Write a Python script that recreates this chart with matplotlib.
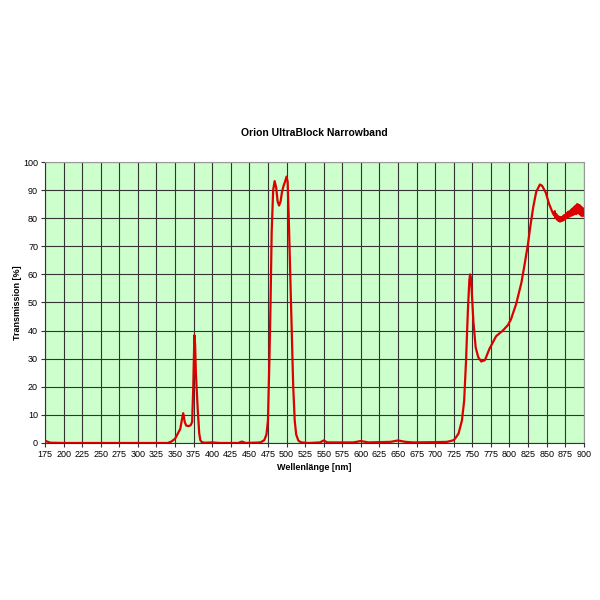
import matplotlib
matplotlib.use("Agg")
import matplotlib.pyplot as plt
import numpy as np

title = "Orion UltraBlock Narrowband"
x_label = "Wellenlänge [nm]"
y_label = "Transmission [%]"
x_ticks = list(range(175, 901, 25))
y_ticks = list(range(0, 101, 10))

wavelength = [175, 178, 182, 200, 250, 300, 340, 345, 350, 354, 357, 359, 361, 363, 365, 368,
              371, 373, 374.5, 376, 377, 378, 379, 380.5, 382.5, 384, 386, 390, 400, 410,
              435, 440, 445, 465, 470, 473, 475, 477, 478.5, 480, 482, 484, 486, 488, 490,
              492, 494, 496, 498, 500, 501.5, 503, 505, 507, 509, 511, 513, 516, 520, 530,
              545, 550, 555, 590, 600, 610, 640, 650, 660, 670, 700, 716, 725, 728, 731.5,
              736, 739, 741.5, 744, 746, 747, 748, 749, 751.5, 754.5, 758, 762, 767, 773,
              782, 791, 798, 802, 809, 816, 820, 825, 828, 832, 836, 841, 844, 849, 853,
              858, 860, 861, 862, 863, 864, 865, 866, 867, 868, 869, 870, 871, 872, 873,
              874, 875, 876, 877, 878, 879, 880, 881, 882, 883, 884, 885, 886, 887, 888,
              889, 890, 891, 892, 893, 894, 895, 896, 897, 898, 899, 900]
transmission = [0.8, 0.5, 0.1, 0, 0, 0, 0, 0.5, 1.5, 3.5, 5, 8, 10.6, 7.5, 6.2, 6,
                6.3, 7.5, 20, 38.4, 35, 25, 20, 12, 3.5, 1, 0.3, 0.1, 0.2, 0,
                0, 0.5, 0, 0.2, 1, 3, 8, 30, 50, 75, 90, 93.2, 91, 86, 84.5,
                86, 89.5, 91.5, 93, 94.8, 93, 80, 60, 40, 20, 8, 3, 0.8, 0.2, 0,
                0.2, 0.9, 0.2, 0.2, 0.7, 0.2, 0.4, 0.9, 0.4, 0.2, 0.3, 0.4, 1, 2, 3.4,
                8, 15, 29, 47, 58, 60, 59, 55, 43, 34, 30.5, 29, 29.5, 33.5,
                38, 40, 42, 44, 49.5, 57, 63, 71, 77, 84, 89.4, 92, 91.5, 89, 85.3,
                82, 81, 82.5, 80, 81.5, 79.5, 80.8, 79, 80.5, 78.8, 80.3, 79, 80.5, 79.2, 81,
                79.5, 81.2, 80, 81.8, 80.3, 82.3, 80.5, 82.5, 80.8, 83, 81, 83.5, 81.2, 84, 81.5,
                84.5, 81.5, 85, 82, 84.8, 81.5, 84.5, 81, 84, 80.8, 83.5, 81]

plt.rcParams['font.family'] = ['Liberation Sans', 'DejaVu Sans']

fig = plt.figure(figsize=(6, 6), dpi=100)
ax = fig.add_axes([0.075, 0.2617, 0.898, 0.4683])
ax.set_facecolor('#CCFFCC')
ax.plot(wavelength, transmission, color='#DD0000', lw=1.6, solid_joinstyle='round', zorder=3)

ax.set_xlim(175, 900)
ax.set_ylim(0, 100)
ax.set_xticks(x_ticks)
ax.set_yticks(y_ticks)
ax.tick_params(axis='both', labelsize=6.5, length=3, width=0.8, color='#333333', pad=2)
ax.grid(True, color='#333333', lw=0.8, zorder=1)
ax.set_axisbelow(True)
for s in ['top', 'right']:
    ax.spines[s].set_color('#999999')
for s in ['left', 'bottom']:
    ax.spines[s].set_color('#333333')

ax.set_title(title, fontsize=7.5, fontweight='bold', pad=19)
ax.set_xlabel(x_label, fontsize=6.5, fontweight='bold', labelpad=3)
ax.set_ylabel(y_label, fontsize=6.5, fontweight='bold', labelpad=1)

fig.savefig('out.png', dpi=100, facecolor='white')
